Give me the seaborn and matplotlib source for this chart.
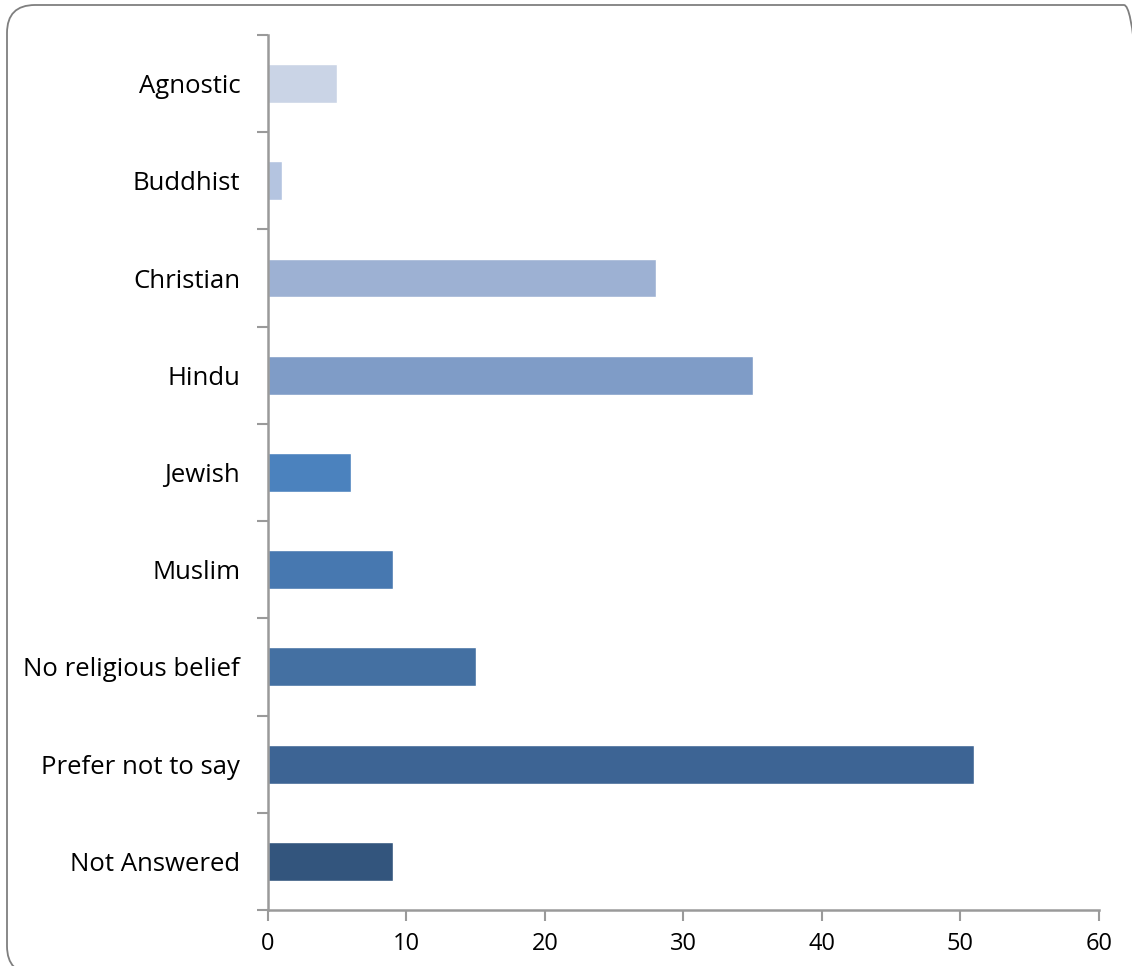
import matplotlib
matplotlib.use("Agg")
import matplotlib.pyplot as plt
import seaborn as sns
from matplotlib.patches import FancyBboxPatch
from pandas import DataFrame

categories = ["Agnostic", "Buddhist", "Christian", "Hindu", "Jewish", "Muslim",
              "No religious belief", "Prefer not to say", "Not Answered"]
counts = [5, 1, 28, 35, 6, 9, 15, 51, 9]
colors = ["#CAD4E6", "#B4C4E0", "#9DB1D3", "#7F9CC7", "#4B82BE",
          "#4778B0", "#4470A2", "#3D6494", "#33557D"]
x_ticks = [0, 10, 20, 30, 40, 50, 60]

sns.set_style("white")
plt.rcParams["font.family"] = ["Open Sans", "DejaVu Sans"]

df = DataFrame({"category": categories, "count": counts})

fig = plt.figure(figsize=(11.32, 9.66), dpi=100)
ax = fig.add_axes([0.2367, 0.058, 0.9708 - 0.2367, 0.9638 - 0.058])

sns.barplot(data=df, x="count", y="category", hue="category", palette=colors,
            legend=False, width=0.4, saturation=1, orient="h", ax=ax)

ax.set_xlim(0, 60)
ax.set_ylim(len(categories) - 0.5, -0.5)
ax.set_xticks(x_ticks)
ax.set_xticklabels([str(t) for t in x_ticks], fontsize=17, color="black")
ax.set_yticks(range(len(categories)))
ax.set_yticklabels(categories, fontsize=18.5, color="black")
ax.tick_params(axis="y", which="major", length=0, pad=20, left=False)
ax.set_yticks([i - 0.5 for i in range(len(categories) + 1)], minor=True)
ax.tick_params(axis="y", which="minor", length=8, width=1.5, color="#9A9A9A",
               direction="out", left=True)
ax.tick_params(axis="x", which="major", length=8, width=1.5, color="#9A9A9A",
               direction="out", bottom=True, pad=8)
ax.set_xlabel("")
ax.set_ylabel("")

for side in ["top", "right"]:
    ax.spines[side].set_visible(False)
for side in ["left", "bottom"]:
    ax.spines[side].set_color("#9A9A9A")
    ax.spines[side].set_linewidth(1.8)

# rounded chart-area frame, running off the right and bottom edges
frame = FancyBboxPatch((0.07, -0.08), 11.45, 9.69, boxstyle="round,pad=0,rounding_size=0.28",
                       transform=fig.dpi_scale_trans, fill=False,
                       edgecolor="#7F7F7F", linewidth=1.3, clip_on=False)
fig.patches.append(frame)

fig.savefig("out.png", dpi=100)
plt.close(fig)
